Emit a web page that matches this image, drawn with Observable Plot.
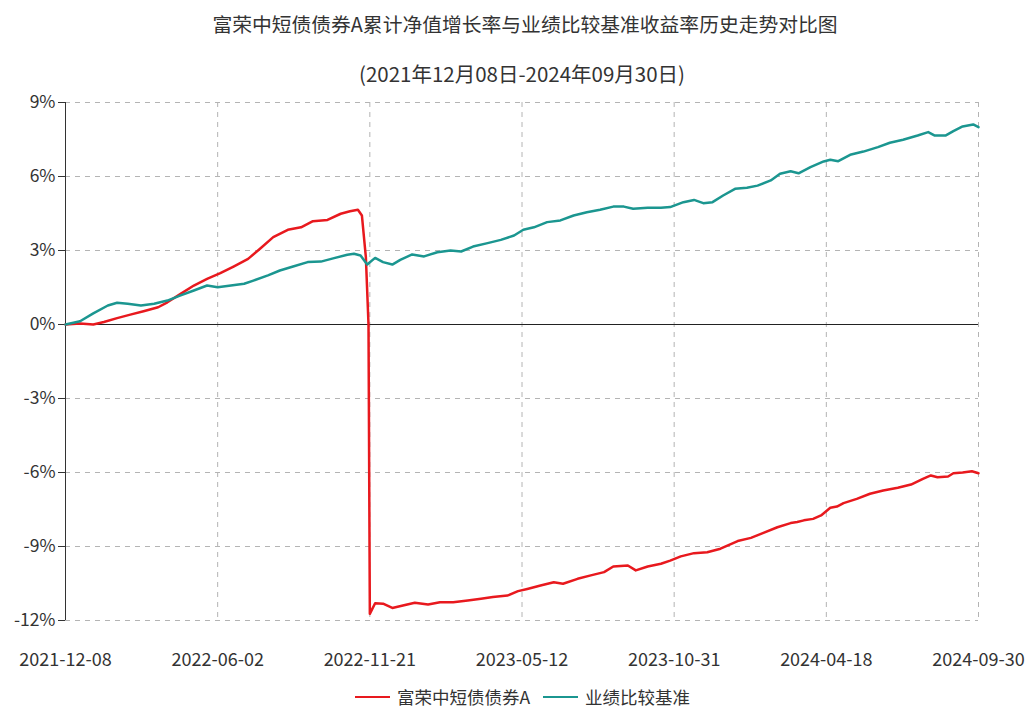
<!DOCTYPE html>
<html>
<head>
<meta charset="utf-8">
<script src="https://cdn.jsdelivr.net/npm/d3@7"></script>
<script src="https://cdn.jsdelivr.net/npm/@observablehq/plot@0.6"></script>
<style>
  body { margin: 0; background: #fff; font-family: "Noto Sans CJK SC", "Noto Sans", sans-serif; color: #333; }
  #wrap { position: relative; width: 1031px; height: 711px; overflow: hidden; }
  .title { position: absolute; left: 0; width: 1050px; text-align: center; color: #333; }
  #chart { position: absolute; left: 0; top: 78px; }
  #legend { position: absolute; top: 684px; left: 0; width: 1031px; height: 26px; font-size: 17.5px; color: #333; }
  .lg { position: absolute; top: 0; display: flex; align-items: center; white-space: nowrap; }
  .sw { display: inline-block; width: 35px; height: 2px; margin-right: 7px; }
</style>
</head>
<body>
<div id="wrap">
  <div class="title" style="top:9px;font-size:19.8px">富荣中短债债券A累计净值增长率与业绩比较基准收益率历史走势对比图</div>
  <div class="title" style="top:58px;font-size:20.5px;width:1044px">(2021年12月08日-2024年09月30日)</div>
  <div id="chart"></div>
  <div id="legend">
    <div class="lg" style="left:355px"><span class="sw" style="background:#e8191e"></span>富荣中短债债券A</div>
    <div class="lg" style="left:543px"><span class="sw" style="background:#1b9690"></span>业绩比较基准</div>
  </div>
</div>
<script>
// Series names
const seriesNames = ["富荣中短债债券A", "业绩比较基准"];
const seriesColors = ["#e8191e", "#1b9690"];

// X axis tick positions (trading-day index) and labels
const xTickIdx = [0, 115, 230, 345, 460, 575, 690];
const xTickLabels = ["2021-12-08", "2022-06-02", "2022-11-21", "2023-05-12", "2023-10-31", "2024-04-18", "2024-09-30"];

// Y ticks (%)
const yTicks = [-12, -9, -6, -3, 0, 3, 6, 9];

// Fund (富荣中短债债券A) cumulative return, %, by trading-day index
const fundIdx = [0, 11, 21, 29, 39, 49, 59, 70, 77, 87, 97, 107, 117, 127, 138, 147, 157, 168, 178, 187, 198, 208, 215, 221, 224, 227, 229, 230, 234, 240, 247, 255, 264, 274, 283, 293, 304, 314, 323, 334, 342, 349, 359, 369, 376, 387, 397, 407, 414, 425, 431, 440, 450, 457, 465, 475, 485, 495, 508, 518, 527, 538, 548, 553, 558, 565, 571, 578, 583, 588, 598, 608, 618, 629, 639, 648, 654, 659, 667, 671, 678, 685, 690];
const fundVals = [0.0, 0.04, 0.0, 0.10, 0.26, 0.40, 0.54, 0.70, 0.90, 1.24, 1.58, 1.85, 2.08, 2.35, 2.66, 3.07, 3.54, 3.84, 3.94, 4.19, 4.24, 4.49, 4.59, 4.65, 4.42, 2.73, 0.0, -11.73, -11.30, -11.32, -11.49, -11.39, -11.28, -11.35, -11.26, -11.26, -11.19, -11.12, -11.05, -10.99, -10.81, -10.72, -10.58, -10.45, -10.51, -10.31, -10.17, -10.04, -9.81, -9.77, -9.97, -9.81, -9.70, -9.57, -9.40, -9.27, -9.23, -9.09, -8.78, -8.65, -8.46, -8.22, -8.05, -8.01, -7.94, -7.88, -7.74, -7.43, -7.38, -7.24, -7.07, -6.86, -6.73, -6.62, -6.49, -6.26, -6.12, -6.19, -6.16, -6.03, -6.00, -5.95, -6.03];

// Benchmark (业绩比较基准) return, %, by trading-day index
const benchIdx = [0, 11, 21, 32, 39, 47, 57, 67, 77, 87, 97, 107, 115, 125, 135, 142, 153, 162, 172, 183, 193, 203, 213, 218, 223, 228, 234, 240, 247, 253, 262, 271, 281, 291, 299, 308, 319, 329, 339, 346, 354, 364, 374, 384, 394, 404, 414, 422, 429, 440, 450, 457, 467, 475, 482, 489, 497, 506, 515, 523, 533, 540, 548, 554, 563, 573, 578, 584, 593, 603, 614, 623, 633, 644, 652, 657, 665, 671, 678, 686, 690];
const benchVals = [0.0, 0.13, 0.45, 0.77, 0.88, 0.84, 0.77, 0.84, 0.97, 1.18, 1.38, 1.58, 1.51, 1.58, 1.65, 1.78, 1.99, 2.19, 2.35, 2.53, 2.55, 2.69, 2.83, 2.87, 2.80, 2.43, 2.70, 2.53, 2.43, 2.62, 2.84, 2.76, 2.93, 3.00, 2.96, 3.16, 3.30, 3.43, 3.61, 3.84, 3.94, 4.15, 4.22, 4.42, 4.55, 4.65, 4.78, 4.78, 4.69, 4.73, 4.73, 4.76, 4.96, 5.05, 4.92, 4.96, 5.23, 5.50, 5.54, 5.63, 5.84, 6.11, 6.21, 6.13, 6.38, 6.61, 6.68, 6.62, 6.88, 7.01, 7.19, 7.37, 7.49, 7.66, 7.80, 7.66, 7.66, 7.84, 8.03, 8.11, 8.00];

const data = [
  ...fundIdx.map((d, i) => ({ x: d, y: fundVals[i], s: seriesNames[0] })),
  ...benchIdx.map((d, i) => ({ x: d, y: benchVals[i], s: seriesNames[1] }))
];

const labelMap = new Map(xTickIdx.map((d, i) => [d, xTickLabels[i]]));
const gridColor = "#b4b4b4";
const font = '"Noto Sans CJK SC", "Noto Sans", sans-serif';

const chart = Plot.plot({
  width: 1031,
  height: 602,
  marginLeft: 65,
  marginRight: 53,
  marginTop: 24,
  marginBottom: 60,
  style: { fontFamily: font, fontSize: "17px", color: "#333", background: "transparent", overflow: "visible" },
  x: { domain: [0, 690] },
  y: { domain: [-12, 9] },
  color: { domain: seriesNames, range: seriesColors },
  marks: [
    Plot.ruleY(yTicks.filter(d => d !== 0), { stroke: gridColor, strokeDasharray: "5,5", strokeWidth: 1 }),
    Plot.ruleX(xTickIdx.filter(d => d !== 0), { stroke: gridColor, strokeDasharray: "5,5", strokeWidth: 1 }),
    Plot.ruleY([0], { stroke: "#222", strokeWidth: 1 }),
    Plot.ruleX([0], { stroke: "#333", strokeWidth: 1 }),
    Plot.axisY({ ticks: yTicks, tickFormat: d => `${d}%`, tickSize: 7, tickPadding: 3, fontSize: 17.5, stroke: "#333", fill: "#333", label: null }),
    Plot.axisX({ ticks: xTickIdx, tickFormat: d => labelMap.get(d), tickSize: 0, tickPadding: 33, fontSize: 18, fill: "#333", label: null }),
    Plot.line(data, { x: "x", y: "y", z: "s", stroke: "s", strokeWidth: 2.5, curve: "linear" })
  ]
});
document.getElementById("chart").appendChild(chart);
</script>
</body>
</html>
